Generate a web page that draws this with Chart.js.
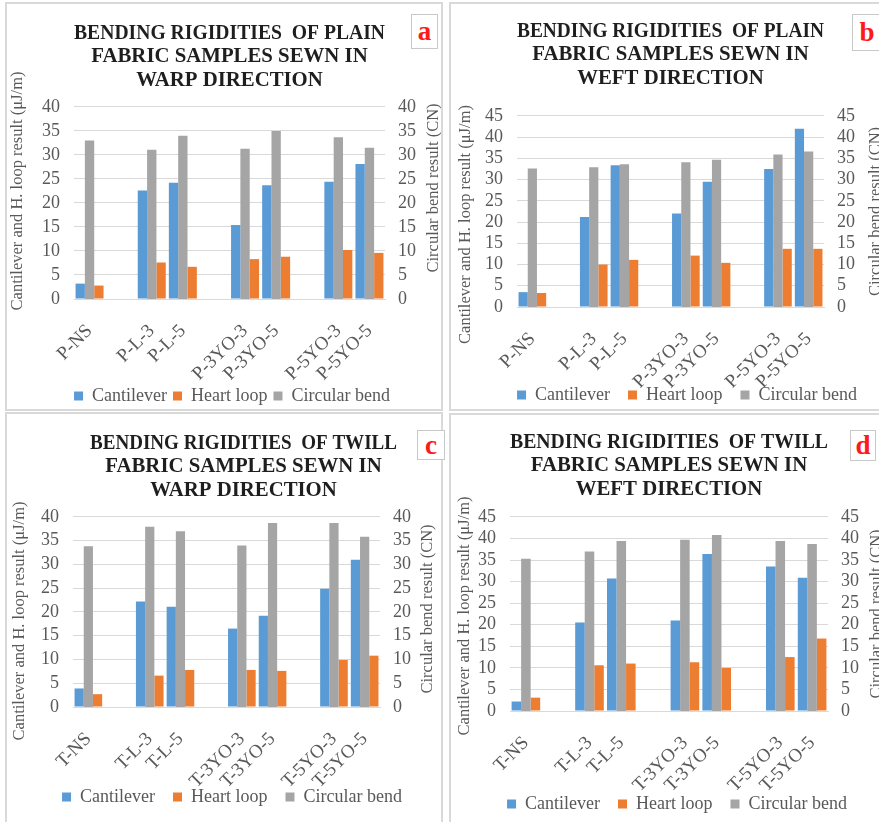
<!DOCTYPE html>
<html>
<head>
<meta charset="utf-8">
<script src="https://cdn.jsdelivr.net/npm/chart.js@4.4.1/dist/chart.umd.min.js"></script>
<style>
  html, body { margin: 0; padding: 0; background: #fff; overflow: hidden; }
  body { width: 879px; height: 822px; position: relative; }
  .panel { position: absolute; border: 2px solid #d9d9d9; box-sizing: border-box; background: #fff; }
  .panel canvas { display: block; }
  .tag { position: absolute; border: 1px solid #c8c8c8; background: #fff; box-sizing: border-box;
         display: flex; align-items: center; justify-content: center;
         font: bold 27px "Liberation Serif", serif; color: #ff1a1a; }
</style>
</head>
<body>
<div class="panel" style="left:5px;top:2px;width:438px;height:409px"><canvas id="chartA" width="434" height="405"></canvas></div>
<div class="panel" style="left:449px;top:2px;width:440px;height:409px"><canvas id="chartB" width="436" height="405"></canvas></div>
<div class="panel" style="left:5px;top:412px;width:438px;height:420px"><canvas id="chartC" width="434" height="416"></canvas></div>
<div class="panel" style="left:449px;top:413px;width:440px;height:420px"><canvas id="chartD" width="436" height="416"></canvas></div>
<div class="tag" style="left:411px;top:14px;width:27px;height:35px">a</div>
<div class="tag" style="left:852px;top:14px;width:30px;height:37px">b</div>
<div class="tag" style="left:417px;top:430px;width:28px;height:30px">c</div>
<div class="tag" style="left:850px;top:430px;width:26px;height:31px">d</div>
<script>
// categories (empty strings are the gaps between groups)
var plainLabels = ["P-NS", "", "P-L-3", "P-L-5", "", "P-3YO-3", "P-3YO-5", "", "P-5YO-3", "P-5YO-5"];
var twillLabels = ["T-NS", "", "T-L-3", "T-L-5", "", "T-3YO-3", "T-3YO-5", "", "T-5YO-3", "T-5YO-5"];

// a - plain, warp
var cantileverA = [3.2, null, 22.6, 24.2, null, 15.4, 23.7, null, 24.4, 28.1];
var heartLoopA  = [2.8, null, 7.6, 6.7, null, 8.3, 8.8, null, 10.2, 9.6];
var circularA   = [33.0, null, 31.1, 34.0, null, 31.3, 35.0, null, 33.7, 31.5];
// b - plain, weft
var cantileverB = [3.5, null, 21.2, 33.4, null, 22.0, 29.5, null, 32.5, 42.0];
var heartLoopB  = [3.3, null, 10.0, 11.1, null, 12.1, 10.4, null, 13.7, 13.7];
var circularB   = [32.6, null, 32.9, 33.6, null, 34.1, 34.7, null, 35.9, 36.6];
// c - twill, warp
var cantileverC = [3.9, null, 22.2, 21.1, null, 16.5, 19.2, null, 24.9, 31.0];
var heartLoopC  = [2.7, null, 6.6, 7.8, null, 7.8, 7.6, null, 9.9, 10.8];
var circularC   = [33.8, null, 37.9, 37.0, null, 34.0, 38.7, null, 38.7, 35.8];
// d - twill, weft
var cantileverD = [2.2, null, 20.5, 30.7, null, 21.0, 36.4, null, 33.5, 30.9];
var heartLoopD  = [3.1, null, 10.6, 11.0, null, 11.3, 10.0, null, 12.5, 16.8];
var circularD   = [35.3, null, 37.0, 39.4, null, 39.7, 40.8, null, 39.4, 38.7];

var axisMax = [40, 45, 40, 45];   // a, b, c, d
var tickStep = 5;

var legendOrder = ["Cantilever", "Heart loop", "Circular bend"];
var leftTitle = "Cantilever and H. loop result (\u03bcJ/m)";
var rightTitle = "Circular bend result (CN)";

var serif = "'Liberation Serif', 'Times New Roman', serif";
var grey = "#595959";

// y-axis titles drawn rotated the Excel way (both read bottom to top)
var axisTitles = {
    id: "axisTitles",
    afterDraw: function (chart, args, opts) {
        var ctx = chart.ctx, area = chart.chartArea;
        var mid = (area.top + area.bottom) / 2;
        ctx.save();
        ctx.font = "16.5px " + serif;
        ctx.fillStyle = grey;
        ctx.textAlign = "center";
        ctx.textBaseline = "middle";
        [opts.left, opts.right].forEach(function (t) {
            ctx.save();
            ctx.translate(t.x, mid + t.dy);
            ctx.rotate(-Math.PI / 2);
            ctx.fillText(t.text, 0, 0);
            ctx.restore();
        });
        ctx.restore();
    }
};

// nudge the chart title and the legend
var boxShift = {
    id: "boxShift",
    afterLayout: function (chart, args, opts) {
        if (chart.titleBlock && opts.title) {
            chart.titleBlock.left += opts.title;
            chart.titleBlock.right += opts.title;
        }
        var lg = chart.legend;
        if (lg) {
            lg.left += opts.legendX || 0;
            lg.right += opts.legendX || 0;
            lg.top += opts.legendY || 0;
            lg.bottom += opts.legendY || 0;
        }
    }
};

function makeChart(id, labels, title, cant, heart, circ, yMax, lay) {
    new Chart(id, {
        type: "bar",
        data: {
            labels: labels,
            datasets: [
                { label: "Cantilever", data: cant, backgroundColor: "#5b9bd5", yAxisID: "y" },
                { label: "Circular bend", data: circ, backgroundColor: "#a5a5a5", yAxisID: "y1" },
                { label: "Heart loop", data: heart, backgroundColor: "#ed7d31", yAxisID: "y" }
            ]
        },
        options: {
            responsive: false,
            animation: false,
            datasets: { bar: { barPercentage: 1, categoryPercentage: 0.9 } },
            layout: { padding: { left: 0, right: 0, top: 0, bottom: lay.padB } },
            plugins: {
                title: {
                    display: true,
                    text: title,
                    fullSize: false,
                    color: "#1e1e1e",
                    font: { family: serif, size: 20.8, weight: "bold", lineHeight: 1.12 },
                    padding: { top: lay.tTop, bottom: lay.tBot }
                },
                legend: {
                    position: "bottom",
                    labels: {
                        color: grey,
                        font: { family: serif, size: 18 },
                        boxWidth: 9,
                        boxHeight: 9,
                        padding: lay.legPad,
                        sort: function (a, b) {
                            return legendOrder.indexOf(a.text) - legendOrder.indexOf(b.text);
                        }
                    }
                },
                tooltip: { enabled: false },
                axisTitles: {
                    left: { text: leftTitle, x: lay.lx, dy: lay.ldy },
                    right: { text: rightTitle, x: lay.rx, dy: lay.rdy }
                },
                boxShift: { title: lay.dx, legendX: lay.legDx, legendY: lay.legDy }
            },
            scales: {
                x: {
                    grid: { display: false },
                    border: { display: true, color: "#d9d9d9" },
                    ticks: {
                        color: grey,
                        font: { family: serif, size: 19 },
                        minRotation: 45,
                        maxRotation: 45,
                        autoSkip: false,
                        padding: 13
                    },
                    afterFit: function (s) { s.height = 88; }
                },
                y: {
                    position: "left",
                    min: 0,
                    max: yMax,
                    grid: { color: "#d9d9d9", drawTicks: false },
                    border: { display: false },
                    ticks: { stepSize: tickStep, maxTicksLimit: 20, color: grey, font: { family: serif, size: 18, lineHeight: 1 }, padding: 14 },
                    afterFit: function (s) { s.width = lay.yW; }
                },
                y1: {
                    position: "right",
                    min: 0,
                    max: yMax,
                    grid: { display: false, drawTicks: false },
                    border: { display: false },
                    ticks: { stepSize: tickStep, maxTicksLimit: 20, color: grey, font: { family: serif, size: 18, lineHeight: 1 }, padding: 13 },
                    afterFit: function (s) { s.width = lay.y1W; }
                }
            }
        },
        plugins: [axisTitles, boxShift]
    });
}

// x axis is 88 high; padB = H - plotBottom - 88 - legendHeight(28 + pad)
makeChart("chartA", plainLabels,
    ["BENDING RIGIDITIES  OF PLAIN", "FABRIC SAMPLES SEWN IN", "WARP DIRECTION"],
    cantileverA, heartLoopA, circularA, axisMax[0],
    { padB: -12, tTop: 18, tBot: 15, legPad: 6, legDx: 8, legDy: -6, yW: 67, y1W: 56, lx: 11, ldy: -12, rx: 427, rdy: -15, dx: 0 });

makeChart("chartB", plainLabels,
    ["BENDING RIGIDITIES  OF PLAIN", "FABRIC SAMPLES SEWN IN", "WEFT DIRECTION"],
    cantileverB, heartLoopB, circularB, axisMax[1],
    { padB: -32, tTop: 16, tBot: 26, legPad: 18, legDx: 18, legDy: -27, yW: 66, y1W: 63, lx: 15, ldy: 13, rx: 425, rdy: 0, dx: 0 });

makeChart("chartC", twillLabels,
    ["BENDING RIGIDITIES  OF TWILL", "FABRIC SAMPLES SEWN IN", "WARP DIRECTION"],
    cantileverC, heartLoopC, circularC, axisMax[2],
    { padB: -11, tTop: 18, tBot: 15, legPad: 18, legDx: 8, legDy: -25, yW: 66, y1W: 61, lx: 13, ldy: 9, rx: 421, rdy: -3, dx: 17 });

makeChart("chartD", twillLabels,
    ["BENDING RIGIDITIES  OF TWILL", "FABRIC SAMPLES SEWN IN", "WEFT DIRECTION"],
    cantileverD, heartLoopD, circularD, axisMax[3],
    { padB: -14, tTop: 16, tBot: 16, legPad: 18, legDx: 8, legDy: -22, yW: 59, y1W: 59, lx: 14, ldy: 2, rx: 426, rdy: 0, dx: 0 });
</script>
</body>
</html>
